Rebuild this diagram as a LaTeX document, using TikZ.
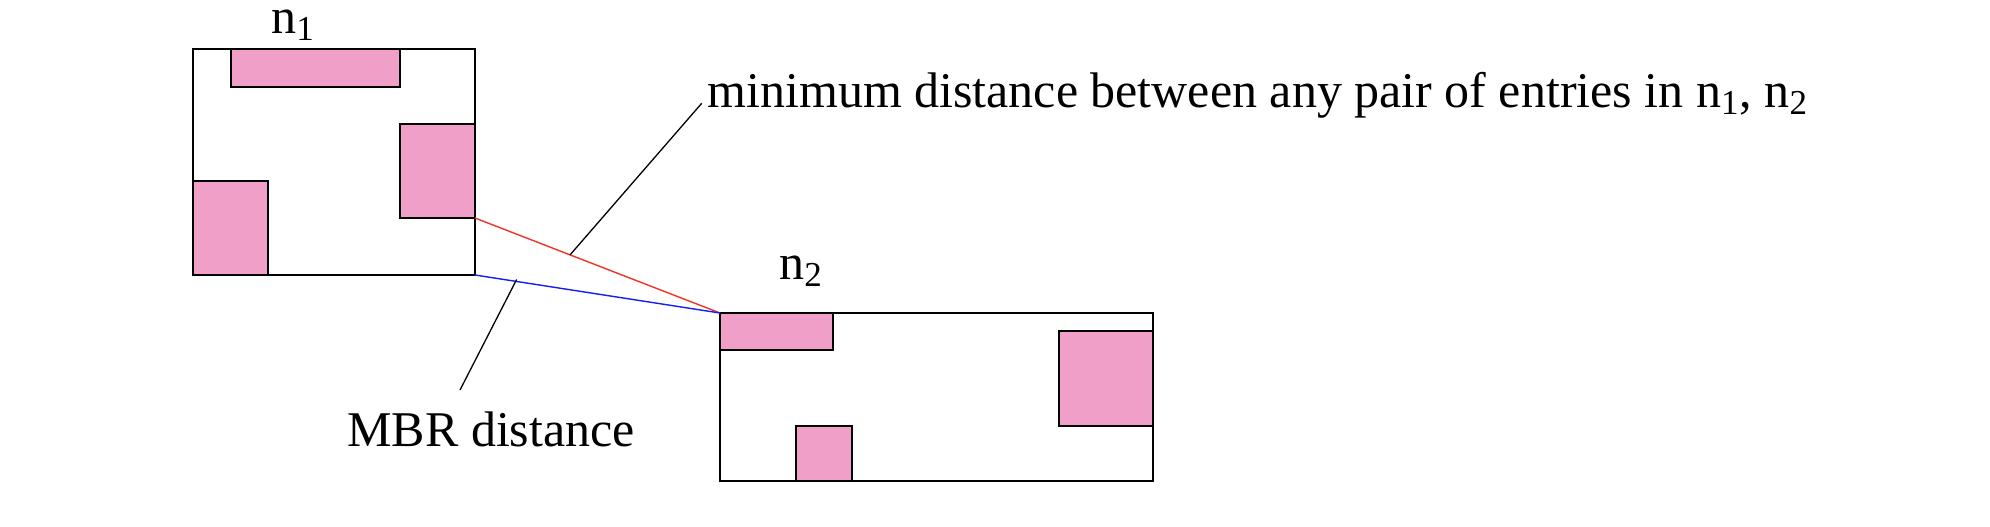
\documentclass[tikz,border=0pt]{standalone}
\usepackage{fontspec}
\setmainfont{Liberation Serif}
\usetikzlibrary{calc}
\definecolor{entrypink}{RGB}{240,159,200}
\definecolor{minred}{RGB}{238,52,36}
\definecolor{mbrblue}{RGB}{20,30,240}
\tikzset{
  mbr/.style={draw=black, line width=0.85pt},
  entry/.style={draw=black, fill=entrypink, line width=0.85pt},
  distline/.style={line width=0.7pt},
  leader/.style={draw=black, line width=0.65pt},
  lbl/.style={inner sep=0pt, anchor=base west, font=\fontsize{25}{30}\selectfont}
}
\begin{document}
\begin{tikzpicture}[x=0.5pt, y=-0.5pt]
\useasboundingbox (0,0) rectangle (1990,526);
% node n1
\draw[mbr] (192.7,49) rectangle (475,275);
\draw[entry] (230.7,49) rectangle (400,87);
\draw[entry] (399.7,124) rectangle (475,218);
\draw[entry] (192.7,181) rectangle (267.7,275);
% node n2
\draw[mbr] (720,313) rectangle (1152.7,481.3);
\draw[entry] (720,313) rectangle (833,349.7);
\draw[entry] (795.7,425.7) rectangle (852,481.3);
\draw[entry] (1059,330.7) rectangle (1152.7,425.7);
% key points
\coordinate (n1entry) at (475,218);
\coordinate (n1corner) at (475,275);
\coordinate (n2corner) at (720,313);
% labels
\node[lbl] (lab1) at (271,33.3) {n\textsubscript{1}};
\node[lbl] (lab2) at (779,279.3) {n\textsubscript{2}};
\node[lbl] (mintext) at (707,107.3) {minimum distance between any pair of entries in n\textsubscript{1}, n\textsubscript{2}};
\node[lbl] (mbrtext) at (347,446.7) {MBR distance};
% distance lines
\draw[distline, draw=minred] (n1entry) -- (n2corner);
\draw[distline, draw=mbrblue] (n1corner) -- (n2corner);
% leaders
\coordinate (minpt) at ($(n1entry)!0.388!(n2corner)$);
\coordinate (minend) at (701.7,103.3);
\draw[leader] (minpt) -- (minend);
\coordinate (mbrpt) at ($(n1corner)!0.17!(n2corner)+(0,-2)$);
\coordinate (mbrend) at (460,390);
\draw[leader] (mbrpt) -- (mbrend);
\end{tikzpicture}
\end{document}
